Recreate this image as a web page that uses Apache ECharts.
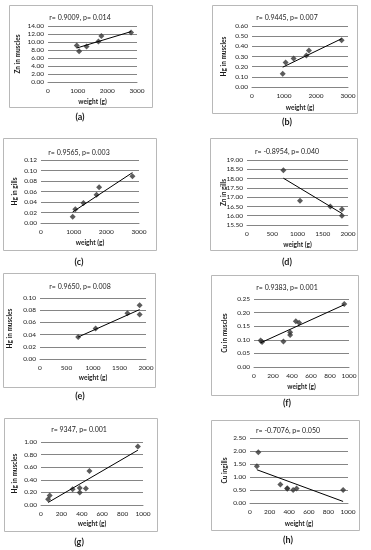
<!DOCTYPE html>
<html><head><meta charset="utf-8">
<script src="https://cdn.jsdelivr.net/npm/echarts@6/dist/echarts.min.js"></script>
<style>html,body{margin:0;padding:0;background:#fff}#c{width:371px;height:550px}</style>
</head><body><div id="c"></div>
<script>
// ---------- data ----------
// (a) Zn in muscles vs weight
const weightA = [970, 1050, 1300, 1700, 1800, 2800];
const znMusclesA = [9.1, 7.7, 8.9, 10.1, 11.5, 12.4];
const trendWeightA = [970, 2800];
const trendZnMusclesA = [8.5, 12.6];
// (b) Hg in muscles vs weight
const weightB = [960, 1050, 1300, 1700, 1780, 2800];
const hgMusclesB = [0.13, 0.24, 0.28, 0.31, 0.36, 0.46];
const trendWeightB = [960, 2800];
const trendHgMusclesB = [0.195, 0.475];
// (c) Hg in gills vs weight
const weightC = [970, 1050, 1300, 1700, 1780, 2800];
const hgGillsC = [0.012, 0.026, 0.038, 0.054, 0.068, 0.089];
const trendWeightC = [970, 2800];
const trendHgGillsC = [0.021, 0.096];
// (d) Zn in gills vs weight
const weightD = [720, 1050, 1650, 1880, 1880];
const znGillsD = [18.45, 16.8, 16.5, 16.35, 16.0];
const trendWeightD = [720, 1880];
const trendZnGillsD = [18.02, 16.12];
// (e) Hg in muscles vs weight
const weightE = [720, 1050, 1650, 1880, 1880];
const hgMusclesE = [0.036, 0.050, 0.075, 0.088, 0.073];
const trendWeightE = [720, 1880];
const trendHgMusclesE = [0.036, 0.081];
// (f) Cu in muscles vs weight
const weightF = [70, 85, 310, 380, 380, 440, 475, 950];
const cuMusclesF = [0.097, 0.092, 0.094, 0.118, 0.128, 0.168, 0.163, 0.232];
const trendWeightF = [70, 950];
const trendCuMusclesF = [0.089, 0.229];
// (g) Hg in muscles vs weight
const weightG = [70, 85, 310, 380, 380, 440, 475, 950];
const hgMusclesG = [0.09, 0.15, 0.25, 0.27, 0.20, 0.26, 0.54, 0.93];
const trendWeightG = [70, 950];
const trendHgMusclesG = [0.04, 0.87];
// (h) Cu in gills vs weight
const weightH = [70, 85, 310, 380, 380, 440, 475, 950];
const cuGillsH = [1.41, 1.95, 0.71, 0.57, 0.55, 0.50, 0.56, 0.50];
const trendWeightH = [70, 950];
const trendCuGillsH = [1.28, 0.06];

// axis ranges [min, max, interval]
const xRange3000 = [0, 3000, 1000];
const xRange2000 = [0, 2000, 500];
const xRange1000 = [0, 1000, 200];
const yRangeA = [0, 14, 2];
const yRangeB = [0, 0.6, 0.1];
const yRangeC = [0, 0.12, 0.02];
const yRangeD = [15.5, 19, 0.5];
const yRangeE = [0, 0.10, 0.02];
const yRangeF = [0, 0.25, 0.05];
const yRangeG = [0, 1.0, 0.2];
const yRangeH = [0, 2.5, 0.5];

// texts
const statTexts = ['r= 0.9009, p= 0.014', 'r= 0.9445, p= 0.007', 'r= 0.9565, p= 0.003', 'r= -0.8954, p= 0.040',
                   'r= 0.9650, p= 0.008', 'r= 0.9383, p= 0.001', 'r= 9347, p= 0.001', 'r= -0.7076, p= 0.050'];
const yNames = ['Zn in muscles', 'Hg in muscles', 'Hg in gills', 'Zn in gills',
                'Hg in muscles', 'Cu in muscles', 'Hg in muscles', 'Cu ingills'];
const xName = 'weight (g)';
const captions = ['(a)', '(b)', '(c)', '(d)', '(e)', '(f)', '(g)', '(h)'];

// ---------- layout ----------
const layouts = [
  {frame:[9,5,152,107],   grid:[48,26,137,82],   title:18,  xname:102, yname:18,  cap:117, cx:80},
  {frame:[212,5,357,113], grid:[252,26,348,87],  title:18,  xname:108, yname:224, cap:122, cx:287},
  {frame:[3,138,156,250], grid:[41,160,139,223], title:153, xname:243, yname:15,  cap:262, cx:79},
  {frame:[210,138,357,250],grid:[247,160,348,225],title:152, xname:245, yname:224, cap:262, cx:287},
  {frame:[3,273,155,387], grid:[40,298,146,359], title:287, xname:378, yname:10,  cap:396, cx:80},
  {frame:[211,275,358,395],grid:[254,299,349,367],title:288, xname:387, yname:225, cap:403, cx:287},
  {frame:[4,418,157,531], grid:[41,442,143,505], title:430, xname:524, yname:15,  cap:542, cx:79},
  {frame:[211,420,359,530],grid:[250,438,348,503],title:431, xname:524, yname:225, cap:540, cx:288}
];

const panelData = [
  {x:weightA, y:znMusclesA, tx:trendWeightA, ty:trendZnMusclesA, xr:xRange3000, yr:yRangeA},
  {x:weightB, y:hgMusclesB, tx:trendWeightB, ty:trendHgMusclesB, xr:xRange3000, yr:yRangeB},
  {x:weightC, y:hgGillsC,   tx:trendWeightC, ty:trendHgGillsC,   xr:xRange3000, yr:yRangeC},
  {x:weightD, y:znGillsD,   tx:trendWeightD, ty:trendZnGillsD,   xr:xRange2000, yr:yRangeD},
  {x:weightE, y:hgMusclesE, tx:trendWeightE, ty:trendHgMusclesE, xr:xRange2000, yr:yRangeE},
  {x:weightF, y:cuMusclesF, tx:trendWeightF, ty:trendCuMusclesF, xr:xRange1000, yr:yRangeF},
  {x:weightG, y:hgMusclesG, tx:trendWeightG, ty:trendHgMusclesG, xr:xRange1000, yr:yRangeG},
  {x:weightH, y:cuGillsH,   tx:trendWeightH, ty:trendCuGillsH,   xr:xRange1000, yr:yRangeH}
];

const FONT = 'Lato, "Liberation Sans", sans-serif';
const GRIDC = '#858585';
const TXT = '#1a1a1a';
const option = {animation:false, backgroundColor:'#fff', grid:[], xAxis:[], yAxis:[], series:[], graphic:[]};

panelData.forEach((p, i) => {
  const L = layouts[i];
  const g = L.grid;
  option.grid.push({left:g[0], top:g[1], width:g[2]-g[0], height:g[3]-g[1]});
  option.xAxis.push({type:'value', gridIndex:i, min:p.xr[0], max:p.xr[1], interval:p.xr[2],
    axisLine:{show:true, onZero:false, lineStyle:{color:GRIDC, width:1}}, axisTick:{show:false},
    splitLine:{show:false},
    axisLabel:{fontSize:6.5, color:TXT, fontFamily:FONT, margin:5, formatter:v => String(Math.round(v))}});
  option.yAxis.push({type:'value', gridIndex:i, min:p.yr[0], max:p.yr[1], interval:p.yr[2],
    axisLine:{show:false}, axisTick:{show:false},
    splitLine:{show:true, lineStyle:{color:GRIDC, width:1}},
    axisLabel:{fontSize:6.5, color:TXT, fontFamily:FONT, margin:4, formatter:v => v.toFixed(2)}});
  option.series.push({type:'scatter', xAxisIndex:i, yAxisIndex:i, symbol:'diamond', symbolSize:6,
    itemStyle:{color:'#333'}, data:p.x.map((w, k) => [w, p.y[k]]), z:3});
  option.series.push({type:'line', xAxisIndex:i, yAxisIndex:i, showSymbol:false, symbol:'none',
    lineStyle:{color:'#000', width:1}, data:p.tx.map((w, k) => [w, p.ty[k]]), z:4});

  const f = L.frame;
  option.graphic.push({type:'rect', z:-1, silent:true,
    shape:{x:f[0]+0.5, y:f[1]+0.5, width:f[2]-f[0], height:f[3]-f[1]},
    style:{fill:'none', stroke:'#b8b8b8', lineWidth:1}});
  option.graphic.push({type:'text', x:L.cx, y:L.title, silent:true,
    style:{text:statTexts[i], font:'7px ' + FONT, fill:TXT, align:'center', verticalAlign:'middle'}});
  option.graphic.push({type:'text', x:(g[0]+g[2])/2, y:L.xname, silent:true,
    style:{text:xName, font:'bold 6.5px ' + FONT, fill:TXT, align:'center', verticalAlign:'middle'}});
  option.graphic.push({type:'text', x:L.yname, y:(g[1]+g[3])/2, rotation:Math.PI/2, silent:true,
    style:{text:yNames[i], font:'bold 6.5px ' + FONT, fill:TXT, align:'center', verticalAlign:'middle'}});
  option.graphic.push({type:'text', x:L.cx, y:L.cap, silent:true,
    style:{text:captions[i], font:'bold 9px ' + FONT, fill:TXT, align:'center', verticalAlign:'middle'}});
});

const chart = echarts.init(document.getElementById('c'), null, {renderer:'canvas'});
chart.setOption(option);
</script>
</body></html>
